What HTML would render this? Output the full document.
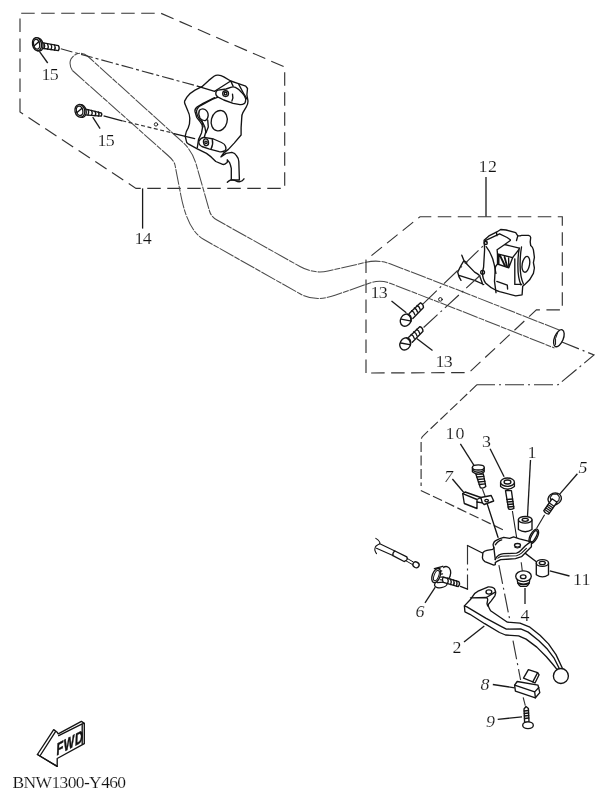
<!DOCTYPE html>
<html><head><meta charset="utf-8">
<style>
html,body{margin:0;padding:0;background:#fff;}
body{width:607px;height:800px;overflow:hidden;}
svg{display:block;filter:grayscale(1) blur(0.3px);}
.s{fill:none;stroke:#141414;stroke-width:1.35;stroke-linejoin:round;stroke-linecap:round;}
.w{fill:#fff;stroke:#141414;stroke-width:1.35;stroke-linejoin:round;}
.h{fill:none;stroke:#4a4a4a;stroke-width:1.05;stroke-linejoin:round;stroke-dasharray:16 1 6 1;}
.d{fill:none;stroke:#333;stroke-width:1.15;stroke-dasharray:13.5 6.5;}
.c{fill:none;stroke:#333;stroke-width:1.15;stroke-dasharray:19 4 2 4;}
.e{fill:none;stroke:#333;stroke-width:1.15;stroke-dasharray:9 4;}
.l{fill:none;stroke:#1a1a1a;stroke-width:1.3;}
text{font-family:"Liberation Serif",serif;font-size:16px;fill:#111;letter-spacing:-0.6px;stroke:#fff;stroke-width:0.15px;}
text.i{font-style:italic;}
text:not(.x){transform-box:fill-box;transform-origin:0 100%;transform:scaleX(1.12);}
</style></head>
<body>
<svg width="607" height="800" viewBox="0 0 607 800">
<!-- ===== LEFT BOX ===== -->
<path class="d" d="M20,112 V13.2 H160.7 L284.7,67 V188.4 H136 Z"/>
<line class="l" x1="142.6" y1="188.4" x2="142.6" y2="228.6"/>
<text x="134.5" y="244.0">14</text>

<!-- handlebar -->
<path class="h" d="M72.4,70.5 Q68.5,64 71,59 Q74.5,53.5 80,53.2 Q84.5,53.3 88,56.5 L182.9,142.4 Q192.4,151.1 196,163.7 L209.5,211 Q211.1,216.7 217,220 L300,266.5 Q313.8,274.2 328,271 L366,262.3 Q378.5,259.4 390,263.8 L457,289.6 L560.7,330.6"/>
<path class="h" d="M72.4,70.5 L168,155.5 Q174.1,160.7 175,165 L181,196 Q187.8,230.3 203.5,239.3 L300,293.8 Q315,302.3 335,295.3 L370,283 Q380,279.5 390,283.2 L457,309.3 L554.5,348"/>
<ellipse class="s" cx="558.9" cy="338.2" rx="4.4" ry="9" transform="rotate(22 558.9 338.2)"/>
<path class="s" d="M557.5,333 Q554.5,338 555.5,344.5" style="stroke-width:1"/>

<!-- screw 15a -->
<path class="s" d="M40.5,42.4 L58.4,45.7 Q60,48 58.4,50.6 L40.5,48"/>
<path class="s" d="M44,43.2 Q45.5,46 44,48.6 M47.5,43.8 Q49,46.5 47.5,49.2 M51,44.5 Q52.5,47 51,49.7 M54.5,45 Q56,47.5 54.5,50.2"/>
<ellipse class="w" cx="38.6" cy="44.5" rx="4.4" ry="6.6" transform="rotate(-12 38.6 44.5)"/>
<ellipse class="w" cx="37" cy="44.2" rx="4.5" ry="6.6" transform="rotate(-12 37 44.2)"/>
<ellipse class="s" cx="36.6" cy="44.2" rx="3" ry="5" transform="rotate(-12 36.6 44.2)"/>
<line class="s" x1="34" y1="46" x2="39" y2="41.5"/>
<line class="l" x1="39.4" y1="51.4" x2="47.7" y2="63"/>
<text x="41.5" y="80.3">15</text>
<path class="e" d="M60.8,48.8 L197.3,86.1" style="stroke-dasharray:12 3 3 3"/>

<!-- screw 15b -->
<path class="s" d="M84.8,108.8 L101,112.8 Q102.6,114.5 101,116.2 L84.8,114.8"/>
<path class="s" d="M88,109.6 Q89.5,112.3 88,115.1 M91.5,110.4 Q93,113 91.5,115.4 M95,111.3 Q96.5,113.7 95,115.7 M98.3,112 Q99.8,114.2 98.3,116"/>
<ellipse class="w" cx="81.5" cy="111.1" rx="4.7" ry="6.4" transform="rotate(-12 81.5 111.1)"/>
<ellipse class="w" cx="79.9" cy="110.8" rx="4.9" ry="6.4" transform="rotate(-12 79.9 110.8)"/>
<ellipse class="s" cx="79.6" cy="110.8" rx="3.2" ry="4.8" transform="rotate(-12 79.6 110.8)"/>
<line class="s" x1="77" y1="112.5" x2="82" y2="108.2"/>
<line class="l" x1="92.7" y1="117.2" x2="100.1" y2="128.6"/>
<text x="97.5" y="145.8">15</text>
<path class="l" d="M103.6,115.8 L122.2,120.8" style="stroke-width:1.2"/>
<path class="e" d="M122.2,120.8 L172,132.8" style="stroke-dasharray:4 2.5"/>
<circle class="s" cx="156" cy="124.4" r="1.7" style="stroke-width:0.9"/>

<!-- left switch housing -->
<path class="w" d="M186.9,97.1 Q190,93 195,90.2 L201.9,86.7 L208.8,80.4 L214,76.3 Q216,75 218.1,75.2 Q221,75.5 223.8,76.9 L230.7,81 L237.7,83.3 L245.7,86.1 L247.5,88.5 L246.9,94.8 L248,101.1 Q248,104.5 246.3,106.9 L242.9,112.7 Q241.5,115 241.7,118.4 L241.1,127.7 L241.1,135 L234.2,143.1 L228.4,149.4 L223.8,152.9 L220.9,156.9 L226.1,153.4 L231.9,152.3 Q235,153 236.5,155.8 Q238.5,158 238.8,161.5 L239.4,180 L231.3,180 L231.3,168.4 Q230.5,164.5 229.6,162.7 L227.3,159.8 Q227.5,163 226.7,162.7 Q224.5,164.8 222.7,164.4 L215.8,161.5 L211.1,156.9 L206.5,153.4 L197.3,148.8 L188.7,144.2 Q186,142.5 186.3,140.8 L185.2,136.1 Q186,131 188.1,128.1 Q190,124 189.8,118.4 Q189.5,114 188.1,111.5 L185.2,104.6 Q184.2,102.5 184.6,101.1 Z"/>
<path class="s" d="M214.6,91.3 L230.7,81 L233.1,86.1 M238.8,84.4 L244,94.2 L246.9,98.8"/>
<path class="s" d="M218.1,97.1 Q212,99 208.8,101.1 L200.2,105.8 Q196.5,108.5 196.5,112 Q197,116 199.5,119 L203,123 Q205.5,127 205.8,132 L203.5,140"/>
<path class="s" d="M214.6,97.7 L203.1,103.4 L197.3,106.9 Q194.5,109 195,111.5 L196.7,117.3 L200.2,121.9 Q202.5,124.5 202.5,127.7 L201.5,133 L198.5,139.6 L197.3,147.7"/>
<path class="s" d="M201.9,120 L203.1,126.9 M207.7,120 L208.3,126.9 L206,132.7"/>
<path class="s" d="M199.4,110.3 Q202,108 205,109.5 Q208.2,111.5 208.2,115.5 Q207.8,119.5 205.5,120.5 Q202,121 200,118 Q197.8,114 199.4,110.3 Z"/>
<ellipse class="s" cx="219.2" cy="120.7" rx="7.9" ry="10.3" transform="rotate(14 219.2 120.7)"/>
<path class="w" d="M215.8,93.1 Q216,90.5 218.1,90.2 L226.1,89 L230.7,87.3 Q233,86.5 235.4,87.3 Q240,89.5 242.3,93.1 Q245,96 245.7,98.8 Q245.8,102.5 244.6,103.4 Q242,105 240,104.6 L233.1,103.4 L223.8,100 L218.1,97.1 Q215.5,95.5 215.8,93.1 Z"/>
<path class="s" d="M232.5,94.2 Q233.5,97.5 231.9,101.1"/>
<circle class="s" cx="225.6" cy="93.6" r="2.9"/>
<circle class="s" cx="225.6" cy="93.6" r="1.3"/>
<path class="s" d="M197.3,86.1 L214.6,91.3"/>
<path class="w" d="M199,140.8 Q201,137.5 204.2,137.3 L213.5,139 L221.5,142.5 Q225,144 225.6,146.5 Q226.5,149.5 225,150.6 Q222.5,152.3 219.2,151.7 L208.8,148.8 L201.9,146.5 Q198,144.5 199,140.8 Z"/>
<path class="s" d="M212.3,139.6 Q213.5,144 211.1,148.8"/>
<ellipse class="s" cx="206" cy="142.3" rx="2.5" ry="3.4" transform="rotate(-10 206 142.3)"/>
<circle class="s" cx="206" cy="142.3" r="1.2"/>
<path class="s" d="M174,133.6 L194.7,138.7" style="stroke-width:1.2"/>
<path class="s" d="M227.3,182.3 Q229,180.5 230.7,180 Q233,179.5 235.4,180.6 Q238,182 240,181.7 Q242.5,181 244,178.8"/>
<!-- ===== RIGHT BOX 12 ===== -->
<path class="d" d="M366,373 V260 L420,216.7 H562.3 V309.8 H536.4 L469,372.6 Z"/>
<line class="l" x1="486" y1="177" x2="486" y2="216.5"/>
<text x="478.5" y="172.0" style="letter-spacing:0.5px">12</text>

<!-- right switch -->
<path class="w" d="M484.1,240.2 L488.9,235.9 L496.4,232.2 L500.7,229.5 L506.1,230 L515.7,232.7 L517.8,235.9 L520,235.9 Q521,235.2 522.1,235.4 L528.5,235.4 Q530.5,236 530.7,237.5 L530.2,241.8 L530.7,245.6 Q533,247.5 533.4,249.8 L534.4,257.3 L533.4,262.7 L534.4,268 L533.4,273.4 L529.6,279.8 L525.3,284.1 L522.7,286.3 L522.1,294.8 L515.7,295.9 L499.6,291.6 L496.4,290.5 Q490,287.5 485.5,283 Q482.5,279 482.5,272.3 L483.6,267 L484.6,249.8 Z"/>
<path class="s" d="M485.2,240.7 L499.6,233.8 L507.1,237.5 L510.3,239.7 M496.4,232.2 L497,235.6 M517.8,235.9 L516.5,240.5"/>
<path class="s" d="M486.2,246.6 Q492,254 494.3,264.8 L495.9,273.4"/>
<path class="s" d="M497.1,249.8 L504.7,244.5 L510.3,240.5 M504.7,244.5 L519.3,248.2 M497.1,249.8 L497.5,253.9 L512.6,257.7 L518.6,249.8"/>
<path class="s" d="M497.5,253.9 L497.5,264 L508.8,267.8 L512.6,257.7 M508.6,258 L508.8,267.8 M497.5,264 Q495.5,266 495.3,267.8 L494.5,281.4 L496,292.6 M496.8,281.4 L507.3,285.1 L507.6,289 M514.8,258.8 L514.8,284.4 L521.6,284.4"/>
<path class="s" d="M498.6,254.8 L498.6,263.6 M500,255.5 L505,266 M504.5,256.8 L507.2,266.8" style="stroke-width:1.8"/>
<path class="s" d="M519.3,248.2 Q517.8,256 517.9,265 Q517.8,278 521,285 M521.5,247 Q520,256 520.1,265 Q520.2,277 523.4,284"/>
<ellipse class="s" cx="525.9" cy="264.3" rx="3.7" ry="8" transform="rotate(10 525.9 264.3)"/>
<circle class="s" cx="485.7" cy="242.9" r="1.6"/>
<circle class="s" cx="482.6" cy="272.3" r="1.9"/>
<path class="s" d="M461.8,255.2 L463.9,260.6 L466.8,262.8 M463.9,260.6 Q461,265 457.7,272.1 Q458.5,277 461,280.4 M463.9,261 L474.6,272.1 Q478,274 479.5,275.4 L482.8,284.5 M459,275.4 L474.6,280.4 L483.7,284.5"/>
<circle class="s" cx="440.4" cy="299.4" r="1.8" style="stroke-width:1"/>
<!-- screws 13 -->
<line class="c" x1="423.1" y1="303.8" x2="487" y2="242.2"/>
<line class="c" x1="423.6" y1="327.5" x2="483" y2="272.7"/>
<path class="s" d="M409.2,313.5 L420.5,302.8 Q423.5,304 423.5,307.5 L412.8,318.5"/>
<path class="s" d="M411.6,310.6 Q414,311.5 414.8,314.6 M414.3,308 Q416.8,309 417.5,312 M417,305.5 Q419.5,306.5 420.2,309.5"/>
<ellipse class="w" cx="405.8" cy="320.1" rx="5.2" ry="6.4" transform="rotate(30 405.8 320.1)"/>
<path class="s" d="M407.5,314.5 Q411.5,316.5 410.8,321.5"/>
<line class="s" x1="401.2" y1="319.2" x2="410.2" y2="320.8"/>
<line class="l" x1="391.5" y1="300.9" x2="406.3" y2="312.7"/>
<text x="370.5" y="298.5">13</text>

<path class="s" d="M408.7,337.3 L420,326.6 Q423,327.8 423,331.3 L412.3,342.3"/>
<path class="s" d="M411.1,334.4 Q413.5,335.3 414.3,338.4 M413.8,331.8 Q416.3,332.8 417,335.8 M416.5,329.3 Q419,330.3 419.7,333.3"/>
<ellipse class="w" cx="405.3" cy="343.9" rx="5.2" ry="6.4" transform="rotate(30 405.3 343.9)"/>
<path class="s" d="M407,338.3 Q411,340.3 410.3,345.3"/>
<line class="s" x1="400.7" y1="343" x2="409.7" y2="344.6"/>
<line class="l" x1="416.7" y1="338.4" x2="432.5" y2="350.4"/>
<text x="435.5" y="366.6">13</text>

<!-- ===== LEVER BOX ===== -->
<path class="c" d="M561.3,341.7 L594,355 L558.2,384.7 H477"/>
<path class="c" d="M477,384.7 L423.4,435.6 Q421.3,437.5 421.1,440 V486 M420.8,490.4 L505,530.7" style="stroke-dasharray:10 3.5"/>

<!-- axis lines in lever box -->
<line class="l" x1="460.4" y1="443.8" x2="474" y2="465.4"/>
<line class="l" x1="490.1" y1="448.8" x2="504.1" y2="476.8"/>
<line class="l" x1="530.5" y1="460" x2="527.5" y2="516.3"/>
<line class="l" x1="577.4" y1="473.8" x2="559.5" y2="494.4"/>
<line class="l" x1="452.4" y1="479" x2="463.8" y2="492.5"/>
<line class="l" x1="569.5" y1="576" x2="549.8" y2="570.8"/>
<line class="c" x1="482.4" y1="489" x2="486.5" y2="500"/>
<line class="s" x1="487.4" y1="504.4" x2="498" y2="537.3"/>
<line class="l" x1="512.4" y1="511" x2="517.5" y2="543" style="stroke-width:1.1"/>
<line class="l" x1="544.6" y1="514.8" x2="536.5" y2="528.5" style="stroke-width:1.1"/>
<line class="s" x1="523.4" y1="551.9" x2="536" y2="561.5"/>
<line class="c" x1="521.2" y1="562.3" x2="522.8" y2="575"/>
<line class="l" x1="525" y1="588" x2="525" y2="604"/>
<line class="c" x1="498.9" y1="565.2" x2="509.7" y2="619.5"/>
<line class="c" x1="513" y1="640.6" x2="520.6" y2="680"/>
<line class="c" x1="523.2" y1="697.4" x2="525.3" y2="705.7"/>
<line class="l" x1="492.8" y1="684.5" x2="514.6" y2="687.8"/>
<line class="l" x1="497.7" y1="719.3" x2="522" y2="716.9"/>
<line class="l" x1="464" y1="642" x2="484.3" y2="626"/>
<line class="l" x1="435.3" y1="587.2" x2="425" y2="602.8"/>
<path class="s" d="M482.4,553 L467.5,545.5"/>
<path class="c" d="M467.5,545.5 V589.2"/>
<path class="s" d="M467.5,589.2 L460.4,586.4"/>

<!-- screw 10 -->
<path class="w" d="M475.9,474.3 L480.3,487.6 Q483,489 485.8,486.6 L483.3,473.8 Z"/>
<path class="s" d="M476.8,477 L483.8,476.3 M477.6,479.5 L484.3,478.8 M478.4,482 L484.9,481.3 M479.2,484.5 L485.4,483.8"/>
<path class="w" d="M472.4,467.4 V471.8 Q478.3,476.5 484.2,471.8 V467.4 Z"/>
<ellipse class="w" cx="478.3" cy="467.4" rx="5.9" ry="2.6"/>
<path class="s" d="M473,470.5 Q478.3,474 483.6,470.5"/>
<text x="445.5" y="438.9" style="letter-spacing:1px">10</text>

<!-- part 7 bracket -->
<path class="w" d="M462.7,493.7 L465.1,492 L480.8,497.5 L491.2,495.5 L493.7,501 L484.1,504.5 L482.3,502.8 L477,502 L477,508.5 L464.3,503.5 Z"/>
<path class="s" d="M462.7,493.7 L477,499.5 L480.8,497.5 M477,499.5 V502 M482.3,502.8 L480.8,497.5"/>
<ellipse class="s" cx="486.6" cy="500.6" rx="1.8" ry="1.2"/>
<text class="i" x="444.0" y="481.7">7</text>

<!-- screw 3 -->
<path class="w" d="M505.5,490.6 L508.5,508.9 Q511,510 513.9,508.4 L511.4,490.6 Z"/>
<path class="s" d="M506.8,499.5 L512.6,499 M507.2,502 L513,501.5 M507.6,504.5 L513.4,504 M508,507 L513.7,506.5"/>
<path class="w" d="M500.6,482.3 V486.5 Q507.5,492 514.4,486.5 V482.3 Z"/>
<ellipse class="w" cx="507.5" cy="482.2" rx="6.9" ry="4.2"/>
<ellipse class="s" cx="507.5" cy="482" rx="3.4" ry="2"/>
<text x="482.0" y="447.4" >3</text>

<!-- part 1 collar -->
<path class="w" d="M518.4,519.8 V529.5 Q525.2,534 532,529.5 V519.8 Z"/>
<ellipse class="w" cx="525.2" cy="519.8" rx="6.8" ry="3.3"/>
<ellipse class="s" cx="525.2" cy="519.8" rx="3.1" ry="1.5"/>
<text x="527.5" y="458.3" >1</text>

<!-- screw 5 -->
<ellipse class="w" cx="554.7" cy="498.8" rx="6.8" ry="5.8" transform="rotate(-20 554.7 498.8)"/>
<path class="s" d="M550.2,497.5 L552.5,494.2 L557,493.9 L559.4,497 L558.8,500.8 L554.8,502.5 L551.2,501 Z" style="stroke-width:1.1"/>
<path class="w" d="M552.0,498.8 L543.8,510.7 Q545.4,513.7 548.7,514.1 L557.0,502.2 Z"/>
<path class="s" d="M549.4,503.0 L554.0,506.2 M548.2,504.7 L552.8,507.8 M547.1,506.3 L551.7,509.5 M546.0,508.0 L550.6,511.1 M544.8,509.6 L549.4,512.8" style="stroke-width:1.2"/>
<text class="i" x="578.5" y="473.0">5</text>

<!-- o-ring -->
<ellipse class="s" cx="533.8" cy="536.3" rx="3.6" ry="7.8" transform="rotate(28 533.8 536.3)"/>
<ellipse class="s" cx="533.8" cy="536.3" rx="2.2" ry="6.2" transform="rotate(28 533.8 536.3)"/>

<!-- perch -->
<path class="w" d="M482.9,552.7 Q484,551 486.9,550.3 L492.8,549.3 Q494,548.5 493.8,547.3 Q492.8,545 493.3,543.8 Q494,541.8 495.3,540.9 L499.2,538.9 L503.7,537.4 L506.7,537.9 L509.6,538.4 L513.6,536.9 L519.5,538.9 L527.4,540.9 L531.4,542 L531.4,546.8 L527.4,550.8 L521.5,556.7 L515.5,558.7 L500.7,559.6 Q497,561 495.3,562.6 L495.3,564.6 L493.8,565.1 L484.9,561.6 Q482.5,560 482.4,557.7 Z"/>
<path class="s" d="M495.3,559.6 Q496.5,556.5 498.8,555.2 Q501,554 503.7,553.7 L516.5,553.2 Q519,552.5 520.5,550.8 L525.4,545.8 L530.4,541.9"/>
<path class="s" d="M497.8,558.2 Q499.5,556.8 501.7,556.2 L516.5,555.7 Q519.5,555 521.5,553.2 L526.4,548.3" style="stroke-width:1.1"/>
<path class="s" d="M495.3,544.8 Q496.5,543 497.8,541.9 Q499.5,540.5 501.7,539.9 M493.8,547.3 L495.3,559.6"/>
<ellipse class="s" cx="517.5" cy="545.3" rx="3" ry="1.8"/>
<path class="s" d="M514.8,547.5 Q517.5,549 520.5,547.2" style="stroke-width:1"/>

<!-- part 11 -->
<path class="w" d="M536.3,563 V574.8 Q542.4,579 548.5,574.8 V563 Z"/>
<ellipse class="w" cx="542.4" cy="563" rx="6.1" ry="3.4"/>
<ellipse class="s" cx="542.3" cy="563" rx="3" ry="1.6"/>
<text x="573.0" y="584.8" style="letter-spacing:0.3px">11</text>

<!-- part 4 -->
<path class="w" d="M517.2,579 Q517.5,585 520.5,586.3 L526.5,586.3 Q529.5,585 529.8,579 Z"/>
<path class="s" d="M518,583.2 Q523.5,585.5 529,583.2" style="stroke-width:1.8"/>
<ellipse class="w" cx="523.5" cy="576.2" rx="7.8" ry="5.4"/>
<ellipse class="s" cx="523.2" cy="576.8" rx="2.8" ry="1.9"/>
<text x="520.5" y="621.4" >4</text>

<!-- screw 6 -->
<ellipse class="w" cx="440.8" cy="584.3" rx="6.3" ry="3.4" transform="rotate(-8 440.8 584.3)"/>
<ellipse class="w" cx="444.8" cy="574.3" rx="5.6" ry="8" transform="rotate(20 444.8 574.3)"/>
<path class="w" d="M434.4,568.6 L442.8,566.3 L447.2,581.8 L437.5,582.6 Z" style="stroke:none"/>
<path class="s" d="M434.4,568.6 L442.8,566.3 M437.5,582.6 L446.5,581.8"/>
<ellipse class="w" cx="436.2" cy="575.6" rx="3.9" ry="7.4" transform="rotate(20 436.2 575.6)"/>
<ellipse class="s" cx="436.4" cy="575.6" rx="2.3" ry="5.4" transform="rotate(20 436.4 575.6)" style="stroke-width:1"/>
<path class="s" d="M438.4,568.8 L440.3,568.2 M439.8,571.4 L441.8,570.9 M440.6,574.2 L442.6,573.9 M440.8,577.1 L442.8,577 M440.2,579.8 L442.2,580" style="stroke-width:1.1"/>
<path class="w" d="M443,577 L458.8,581.6 Q460.6,584 458.2,586.6 L443.3,582.3 Q441.8,579.8 443,577 Z"/>
<path class="s" d="M447.5,578.2 Q448.8,580.5 447.6,583.6 M450.5,579.1 Q451.8,581.4 450.6,584.5 M453.5,580 Q454.8,582.3 453.6,585.4 M456.4,580.9 Q457.7,583.2 456.5,586.2"/>
<text class="i" x="415.5" y="616.6">6</text>

<!-- cable -->
<path class="s" d="M375.8,538.4 Q380.5,541.5 379.8,543.7 Q375,546 375.2,547.7 Q374,550 376.5,553.6" style="stroke-width:1.1"/>
<path class="s" d="M379.8,543.7 L394.9,551 M376.5,548.3 L392.9,555.6" style="stroke-width:1.1"/>
<path class="w" d="M394.9,551 L406.8,556.9 Q408.8,559.8 404.1,561.5 L392.9,555.6 Q392.4,552.5 394.9,551 Z"/>
<path class="s" d="M406.8,558.2 L413,561.8 M405.6,560.6 L412.2,564.4" style="stroke-width:1"/>
<ellipse class="w" cx="416" cy="564.8" rx="3.2" ry="2.8" transform="rotate(30 416 564.8)"/>

<!-- lever 2 -->
<path class="w" d="M464.4,605.9 L470.9,599 L472.1,597.1 Q475,592.5 478.1,591.2 L488.3,586.9 Q491.5,586.8 493,587.6 Q495,588.6 494.9,589.9 Q495.9,591.8 495.6,593.2 L494.9,595.8 L491,601.1 L488.3,604.4 Q488.2,606.5 489,607.7 L490.6,610.8 L507.4,622.2 L520,623.2 L529.3,626.8 L540,635.3 L548.5,643.9 L556,654.6 L562.5,668.5 L557.1,669.6 L552.8,664.3 L546.4,656.8 L536.8,647.1 L526.1,639.1 L518.6,635.9 L505.5,635 L499.5,632.5 L484.7,623.7 L469.9,614.3 L464.9,611.8 Z"/>
<path class="s" d="M464.4,605.9 L466.9,606.9 L485.7,618.2 L501.5,626.6 L506.4,629.1 L520.7,628.9 L528.2,632.1 L538.9,640.7 L547.5,649.3 L553.9,657.8 L559.3,668.5"/>
<path class="s" d="M470.5,597.8 L486.4,597.5 Q487.8,598.5 487.7,599.8 L487,603.7 Q487.2,605.3 488.3,606.4 M486.4,597.5 L495.2,592.2"/>
<ellipse class="s" cx="488.9" cy="592" rx="2.9" ry="2.1"/>
<circle class="w" cx="560.9" cy="676" r="7.5"/>
<text x="452.5" y="653.3" >2</text>

<!-- part 8 -->
<path class="w" d="M523.5,678.2 L528.4,669.6 L537.6,672.6 L539.1,674.8 L535,683 L532.8,681.9 Z"/>
<path class="s" d="M532.8,681.9 L537.6,672.6"/>
<path class="w" d="M514.6,685.2 L517.2,681.5 L538,685.2 L539.8,692.6 L535.4,697.8 L515.4,691.1 Z"/>
<path class="s" d="M514.6,685.2 L534.7,691.9 L538.8,687.5 M534.7,691.9 L535.4,697.8"/>
<text class="i" x="480.5" y="689.7">8</text>

<!-- screw 9 -->
<path class="w" d="M524,709 L526,706.5 L528.4,708.5 L529,722 L524.6,722.5 Z"/>
<path class="s" d="M524.2,711 L528.5,710.5 M524.3,713.5 L528.6,713 M524.4,716 L528.7,715.5 M524.5,718.5 L528.8,718"/>
<ellipse class="w" cx="528" cy="725.3" rx="5.3" ry="3.4"/>
<text class="i" x="486.0" y="727.2">9</text>

<!-- FWD / label -->
<path class="w" d="M37.4,754.5 L53.7,729.6 L57.2,732.3 L58.2,733.8 L81.4,721.4 L84.3,723.4 L84.3,743.7 L57.2,758.5 L57.2,766.4 Z"/>
<path class="s" d="M39.9,756 L55.5,731.6 M37.4,754.5 L39.9,756 L57.2,766.4 M58.7,735.7 L82.2,723.9 L84.3,723.4 M82.2,723.9 V744"/>
<text class="x" transform="translate(56.3,755.8) skewY(-28) scale(0.66,1) skewX(-4)" style="font-family:'Liberation Sans',sans-serif;font-weight:bold;font-size:17px;stroke:#111;stroke-width:0.5;letter-spacing:0.7px">FWD</text>
<text class="x" x="12.5" y="788" style="font-size:17px" textLength="113" lengthAdjust="spacingAndGlyphs">BNW1300-Y460</text>
</svg>
</body></html>
